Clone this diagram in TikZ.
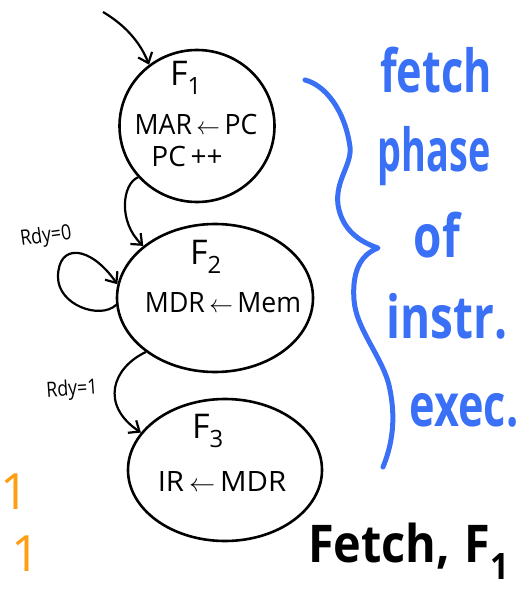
\documentclass[tikz,border=0pt]{standalone}
\usepackage{fontspec}
\usepackage{graphicx}
\setmainfont{Open Sans}
\usetikzlibrary{shapes.geometric,arrows.meta}
\definecolor{penblue}{RGB}{58,112,246}
\definecolor{penorange}{RGB}{255,158,20}
\begin{document}
\begin{tikzpicture}[x=1pt,y=-1pt,
  state/.style={draw, ellipse, line width=2.6pt, inner sep=0pt},
  ink/.style={line width=2.2pt, -{Straight Barb[length=9pt,width=15pt,line width=2.2pt]}},
  body/.style={font=\fontsize{28}{30}\selectfont, inner sep=0pt},
  sname/.style={font=\fontsize{34}{36}\selectfont, inner sep=0pt},
  cond/.style={font=\fontsize{21}{22}\selectfont, inner sep=0pt},
  remark/.style={text=penblue, font=\fontsize{54}{60}\selectfont\bfseries, inner sep=0pt},
  brace/.style={draw=penblue, line width=5pt, line cap=round, line join=round},
]
\useasboundingbox (0,0) rectangle (522,593);

% states of the fetch phase
\node[state, minimum width=155pt, minimum height=152pt] (F1) at (197,126) {};
\node[state, minimum width=196pt, minimum height=148pt] (F2) at (215,298) {};
\node[state, minimum width=194pt, minimum height=142pt] (F3) at (225,470) {};

% state contents
\node[sname] (t1) at (186,78) {F\textsubscript{1}};
\node[body] (a1) at (196,125) {\scalebox{0.95}[1]{MAR\,$\leftarrow$\,PC}};
\node[body] (a2) at (187,157) {PC\,++};
\node[sname] (t2) at (206,257) {F\textsubscript{2}};
\node[body] (b1) at (223,303) {\scalebox{0.95}[1]{MDR\,$\leftarrow$\,Mem}};
\node[sname] (t3) at (208,431) {F\textsubscript{3}};
\node[body] (c1) at (222,482) {\scalebox{1.05}[1]{IR\,$\leftarrow$\,MDR}};

% transitions
\coordinate (start) at (103,12);
\draw[ink] (start) .. controls (125,25) and (140,42) .. (F1.128);
\draw[ink] (F1.221) .. controls (122,184) and (118,222) .. (F2.144);
\draw[ink] (F2.184) .. controls (100,320) and (58,305) .. (58,277)
                    .. controls (58,243) and (90,245) .. (F2.172);
\draw[ink] (F2.218) .. controls (112,368) and (100,405) .. (F3.156);

% transition conditions
\node[cond, rotate=8] (c0) at (46,237) {\scalebox{0.85}[1]{Rdy=0}};
\node[cond, rotate=4] (c1l) at (72,390) {\scalebox{0.85}[1]{Rdy=1}};

% brace and side note
\draw[brace] (305,80) .. controls (325,85) and (345,110) .. (350,147)
  .. controls (352,165) and (335,180) .. (338,205)
  .. controls (342,230) and (360,242) .. (378,248)
  .. controls (360,255) and (352,272) .. (354,300)
  .. controls (356,330) and (385,360) .. (390,390)
  .. controls (396,420) and (392,445) .. (383,467);

\node[remark] (n1) at (436,70) {\scalebox{0.8}[1.1]{fetch}};
\node[remark] (n2) at (434,156) {\scalebox{0.7}[1.1]{phase}};
\node[remark] (n3) at (437,235) {\scalebox{0.85}[1.1]{of}};
\node[remark] (n4) at (447,316) {\scalebox{0.85}[1.1]{instr.}};
\node[remark] (n5) at (464,410) {\scalebox{0.8}[1.1]{exec.}};

% caption in the corner
\node[anchor=base west, inner sep=0pt, font=\fontsize{52}{56}\selectfont\bfseries] (cap)
  at (308,562) {\scalebox{0.9}[1]{Fetch,\hspace{16pt}F\textsubscript{1}}};

% orange marks at the left edge
\node[text=penorange, inner sep=0pt, font=\fontsize{50}{54}\selectfont] (o1) at (15,492) {1};
\node[text=penorange, inner sep=0pt, font=\fontsize{50}{54}\selectfont, anchor=east] (o2) at (40,554) {=\,1};
\end{tikzpicture}
\end{document}
